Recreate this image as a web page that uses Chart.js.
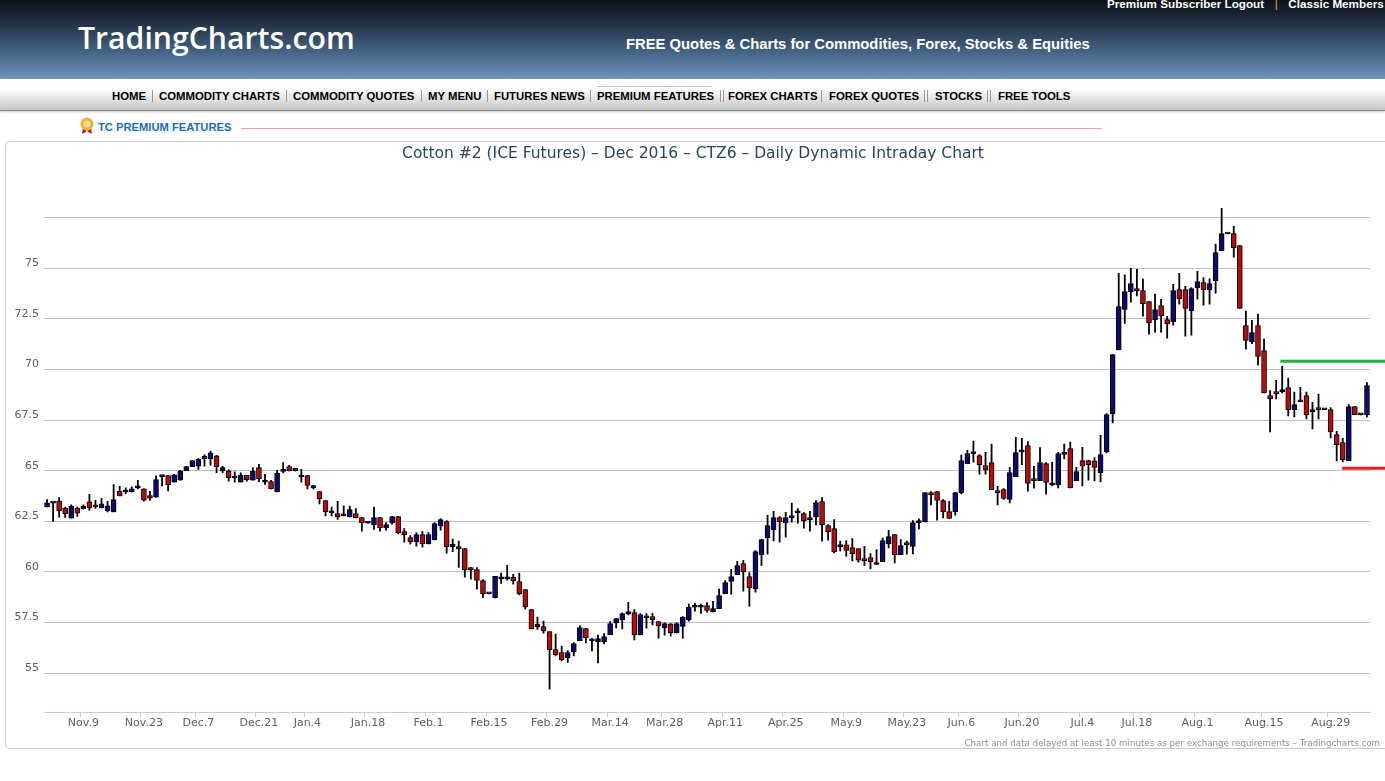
<!DOCTYPE html>
<html>
<head>
<meta charset="utf-8">
<title>Cotton #2 - CTZ6</title>
<script src="https://cdn.jsdelivr.net/npm/chart.js@4"></script>
<style>
html,body{margin:0;padding:0;background:#fff;overflow:hidden;width:1385px;height:781px;font-family:"Liberation Sans",Arial,sans-serif;}
.abs{position:absolute;white-space:nowrap;}
#head{position:absolute;left:0;top:0;width:1385px;height:79px;background:linear-gradient(#0c1116 0%,#1f2c3b 25%,#3f5b7b 60%,#6e94bd 100%);}
#nav{position:absolute;left:0;top:79px;width:1385px;height:31px;background:linear-gradient(#fff 0%,#fff 30%,#c6c6c6 100%);border-bottom:1px solid #888;box-shadow:0 1px 2px #ccc;}
#logo{left:78px;top:17px;color:#fff;font:600 30.2px "Open Sans",sans-serif;}
#slogan{left:626px;top:36px;color:#fff;font:bold 14.8px "Liberation Sans";}
#toplinks{left:1107px;top:-3px;color:#fff;font:bold 11.7px "Liberation Sans";}
#toplinks span{color:#e8a040;margin:0 10.5px;font-weight:normal;}
.nv{top:90px;font:bold 11.35px "Liberation Sans";color:#000;}
.sep{top:90px;width:1px;height:12px;background:#a89098;}
#navline{position:absolute;left:597px;top:86px;width:115px;height:1px;background:#c4c4c4;}
#premium{left:98px;top:121px;font:bold 11.2px "Liberation Sans";color:#0f70c8;}
#rule{position:absolute;left:241px;top:128px;width:861px;height:1px;background:#ff9aa0;}
#panel{position:absolute;left:5px;top:141px;width:1400px;height:608px;box-sizing:border-box;border:1px solid #ccc;border-radius:5px;}
#chart{position:absolute;left:5px;top:141px;}
#credit{right:5px;top:738px;font:8.7px "DejaVu Sans";color:#909090;}
</style>
</head>
<body>
<div id="head"></div>
<div id="nav"></div>
<div id="navline"></div>
<div class="abs" id="logo">TradingCharts.com</div>
<div class="abs" id="slogan">FREE Quotes &amp; Charts for Commodities, Forex, Stocks &amp; Equities</div>
<div class="abs" id="toplinks">Premium Subscriber Logout<span>|</span>Classic Members</div>
<div id="navitems"></div>
<svg class="abs" style="left:79px;top:117px" width="16" height="18" viewBox="0 0 16 18">
  <path d="M4 10 L3 17 L7 15 L8 11 Z M12 10 L13 17 L9 15 L8 11 Z" fill="#b8252c"/>
  <circle cx="8" cy="7" r="6.5" fill="#eeb23c"/><circle cx="8" cy="7" r="3.6" fill="#f8dc8a"/>
</svg>
<div class="abs" id="premium">TC PREMIUM FEATURES</div>
<div id="rule"></div>
<div id="panel"></div>
<canvas id="chart" width="1380" height="608"></canvas>
<div class="abs" id="credit">Chart and data delayed at least 10 minutes as per exchange requirements – Tradingcharts.com</div>

<script>
const chartTitle = 'Cotton #2 (ICE Futures) – Dec 2016 – CTZ6 – Daily Dynamic Intraday Chart';

const navLabels = ['HOME','COMMODITY CHARTS','COMMODITY QUOTES','MY MENU','FUTURES NEWS','PREMIUM FEATURES','FOREX CHARTS','FOREX QUOTES','STOCKS','FREE TOOLS'];
const navLeft = [112,159,293,428,494,597,728,829,935,998];
const navSeps = [152,286,421,487,590,720,723,821,924,927,987,990];

const tickIndex = [6,16,25,35,43,53,63,73,83,93,102,112,122,132,142,151,161,171,180,190,201,212];
const tickText = ['Nov.9','Nov.23','Dec.7','Dec.21','Jan.4','Jan.18','Feb.1','Feb.15','Feb.29','Mar.14','Mar.28','Apr.11','Apr.25','May.9','May.23','Jun.6','Jun.20','Jul.4','Jul.18','Aug.1','Aug.15','Aug.29'];

const highs = [
63.57,63.42,63.67,63.21,63.32,63.21,63.32,63.83,63.54,63.64,
63.49,64.31,64.23,64.15,64.20,64.52,64.11,63.98,64.75,64.77,
64.77,64.82,65.02,65.22,65.51,65.60,65.79,65.96,65.76,65.22,
65.05,64.94,64.90,64.77,65.15,65.31,64.82,64.52,65.02,65.40,
65.27,65.12,65.07,64.77,64.28,63.98,63.53,63.20,63.49,63.27,
63.25,63.13,62.70,62.45,63.20,62.70,62.44,62.75,62.75,62.14,
61.80,61.95,61.99,61.95,62.44,62.64,62.54,61.62,61.52,61.17,
60.23,60.22,59.63,58.94,59.78,59.94,60.33,59.89,59.94,59.13,
58.16,57.77,57.57,57.06,56.93,56.34,56.12,56.51,57.35,57.22,
56.71,56.88,56.96,57.55,57.70,57.98,58.50,58.14,57.95,57.95,
57.96,57.55,57.49,57.45,57.50,57.80,58.41,58.46,58.41,58.49,
58.55,59.15,59.58,60.13,60.53,60.58,59.97,61.06,61.63,62.80,
63.00,62.74,62.95,63.40,63.13,62.93,63.00,63.53,63.67,62.34,
62.59,61.53,61.55,61.65,61.16,61.27,60.91,61.11,61.68,62.06,
61.85,61.60,61.52,62.54,62.62,63.92,63.97,63.97,63.58,63.49,
63.92,65.77,66.01,66.46,65.80,65.91,66.31,64.23,64.12,65.17,
66.65,66.60,66.44,65.22,66.14,65.40,65.42,65.91,66.31,66.41,
65.17,66.16,65.52,65.65,66.75,67.82,70.73,74.75,74.67,75.00,
74.95,74.46,73.35,73.72,73.47,72.63,74.21,74.75,74.11,74.04,
74.85,74.54,74.47,76.19,77.96,76.71,77.07,76.12,72.88,72.43,
72.73,71.50,68.96,69.47,70.16,69.57,68.88,69.12,68.88,68.38,
68.78,68.03,68.12,66.95,66.60,68.27,68.17,67.78,69.35];

const lows = [
63.21,62.50,62.71,62.70,62.66,62.75,63.11,63.04,63.14,63.16,
62.96,62.96,63.75,63.87,63.95,64.10,63.50,63.54,63.70,64.25,
64.00,64.44,64.54,65.00,65.20,65.07,65.23,65.27,64.90,64.90,
64.49,64.44,64.44,64.49,64.54,64.46,64.33,64.10,63.95,64.89,
64.99,64.99,64.44,64.10,64.09,63.36,62.77,62.77,62.60,62.77,
62.72,62.67,62.01,62.41,62.10,62.01,62.06,62.36,61.88,61.47,
61.37,61.27,61.22,61.39,61.58,62.06,60.93,61.00,60.23,59.74,
59.64,59.15,58.75,58.92,58.72,59.44,59.59,59.40,58.87,58.16,
57.19,57.17,56.98,54.21,55.86,55.61,55.54,55.86,56.61,56.50,
56.10,55.51,56.45,56.91,57.24,57.19,57.88,56.65,56.89,57.22,
57.39,56.73,56.88,56.83,56.99,56.73,57.57,58.06,57.96,58.01,
58.03,58.19,58.93,58.90,59.87,59.05,58.31,59.00,60.33,60.88,
61.53,61.47,61.72,62.46,62.41,62.16,62.01,62.33,61.52,61.57,
60.94,61.04,60.78,60.55,60.48,60.33,60.15,60.37,60.51,61.19,
60.45,60.86,60.88,60.89,62.13,62.47,63.31,62.56,62.67,62.64,
62.80,63.86,65.35,65.42,64.83,64.83,64.07,63.31,63.58,63.41,
64.71,65.30,63.99,64.14,64.51,63.84,64.25,64.15,65.58,64.15,
64.51,64.25,64.53,64.50,64.45,65.88,67.36,70.97,72.28,73.32,
73.63,72.63,71.74,71.84,71.84,71.54,72.19,73.22,71.64,71.69,
73.47,73.17,73.22,73.77,75.87,76.69,75.54,73.01,71.00,71.28,
70.21,68.84,66.92,68.55,68.84,67.71,67.66,68.40,67.56,67.07,
67.56,68.01,66.62,65.49,65.44,65.50,67.77,67.76,67.66];

const opens = [
63.21,63.40,63.50,63.16,62.66,63.16,63.11,63.47,63.32,63.16,
63.01,62.96,63.98,63.95,63.95,64.15,64.11,63.77,63.70,64.71,
64.76,64.44,64.54,65.00,65.20,65.23,65.58,65.59,65.74,64.99,
65.00,64.64,64.44,64.77,64.54,65.15,64.43,64.46,63.95,64.97,
65.20,64.99,64.69,64.76,64.15,63.97,63.53,62.92,62.88,62.77,
62.72,62.89,62.69,62.41,62.33,62.69,62.18,62.44,62.74,61.99,
61.70,61.49,61.85,61.39,61.58,62.28,62.49,61.24,61.26,61.16,
60.22,60.12,59.58,58.92,58.72,59.66,59.66,59.74,59.53,59.13,
58.14,57.29,57.30,57.06,56.17,56.02,55.77,56.06,56.61,57.21,
56.60,56.56,56.56,56.91,57.49,57.65,57.93,57.99,56.89,57.73,
57.80,57.55,57.24,57.44,56.99,57.31,57.63,58.26,58.26,58.34,
58.03,58.19,58.93,59.53,59.87,60.42,59.77,59.16,60.86,61.68,
62.08,62.69,62.42,62.67,62.92,62.88,62.57,62.72,63.48,62.29,
62.14,61.24,61.34,61.21,61.16,60.66,60.71,60.37,60.51,61.39,
61.85,60.86,61.45,61.26,62.44,62.47,63.92,63.97,63.53,62.98,
62.97,63.91,65.35,65.83,65.75,65.26,65.40,64.02,64.07,63.58,
64.71,65.93,66.24,64.61,64.51,65.35,64.30,64.30,65.81,66.09,
64.51,65.50,65.50,65.49,64.91,65.93,67.81,70.97,72.96,73.83,
74.00,73.90,73.35,72.45,73.16,72.47,72.35,73.95,73.95,72.89,
74.03,74.29,73.93,74.39,75.87,76.69,76.71,76.12,72.17,71.36,
72.17,70.93,68.71,68.91,68.89,69.11,68.02,68.40,68.71,67.91,
68.12,68.01,68.02,66.79,66.39,65.50,68.17,67.76,67.77];

const closes = [
63.42,63.42,63.01,62.88,63.24,62.91,63.24,63.17,63.21,63.37,
63.27,63.57,63.75,64.03,64.11,64.26,63.55,63.65,64.56,64.77,
64.31,64.80,65.00,65.20,65.50,65.56,65.71,65.89,65.20,65.15,
64.66,64.72,64.77,64.56,64.97,64.59,64.51,64.10,64.87,65.07,
64.99,65.12,64.77,64.27,64.27,63.61,62.98,62.95,62.72,62.85,
63.08,62.67,62.44,62.45,62.69,62.18,62.34,62.74,61.93,61.83,
61.49,61.85,61.39,61.85,62.39,62.59,61.24,61.37,61.14,60.10,
60.10,59.58,58.92,58.94,59.78,59.74,59.74,59.56,58.92,58.29,
57.19,57.42,57.09,56.17,55.92,55.67,56.02,56.47,57.25,56.76,
56.68,56.71,56.81,57.45,57.70,57.95,58.05,56.89,57.90,57.81,
57.65,57.34,57.45,56.99,57.45,57.77,58.26,58.31,58.34,58.10,
58.19,58.84,59.48,59.77,60.32,60.00,59.21,61.01,61.60,62.29,
62.69,62.47,62.69,62.79,62.98,62.52,62.69,63.43,62.34,61.98,
60.99,61.35,61.06,60.91,60.58,60.56,60.51,60.46,61.55,61.75,
60.86,61.30,61.34,62.44,62.54,63.92,63.81,63.53,62.97,62.64,
63.92,65.50,65.85,65.95,65.30,65.04,64.07,63.92,63.63,64.91,
65.90,66.00,64.37,64.51,65.40,64.42,64.37,65.85,65.86,64.15,
64.96,65.22,65.30,65.16,65.80,67.77,70.73,73.11,73.85,74.24,
73.88,73.24,72.30,72.96,72.65,72.25,73.90,73.49,73.01,74.00,
74.34,73.93,74.24,75.77,76.71,76.71,76.02,73.01,71.43,71.82,
70.64,68.84,68.55,68.79,69.01,68.02,68.27,68.47,67.77,68.02,
68.02,68.03,66.92,66.29,65.54,68.17,67.77,67.78,69.21];

// support / resistance marks on the right
const resistanceLevel = 70.41;
const supportLevel = 65.12;
const resistanceStart = 203.7;
const supportStart = 213.9;

// nav row
const navBox = document.getElementById('navitems');
navLabels.forEach((txt, i) => {
    const d = document.createElement('div');
    d.className = 'abs nv';
    d.style.left = navLeft[i] + 'px';
    d.textContent = txt;
    navBox.appendChild(d);
});
navSeps.forEach(x => {
    const d = document.createElement('div');
    d.className = 'abs sep';
    d.style.left = x + 'px';
    navBox.appendChild(d);
});

const categories = highs.map(() => '');
tickIndex.forEach((idx, i) => { categories[idx] = tickText[i]; });

const wicks = highs.map((h, i) => [lows[i], h]);
const bodies = opens.map((o, i) => [o, closes[i]]);
const bodyColors = opens.map((o, i) => closes[i] >= o ? '#0b0b6e' : '#b80c0c');

const levelMarks = {
    id: 'levelMarks',
    afterDatasetsDraw(chart) {
        const ctx = chart.ctx;
        const x = chart.scales.x;
        const y = chart.scales.y;
        ctx.save();
        ctx.lineWidth = 3;
        ctx.strokeStyle = '#22b14c';
        ctx.beginPath();
        ctx.moveTo(x.getPixelForValue(resistanceStart), y.getPixelForValue(resistanceLevel));
        ctx.lineTo(chart.width, y.getPixelForValue(resistanceLevel));
        ctx.stroke();
        ctx.strokeStyle = '#ed1c24';
        ctx.beginPath();
        ctx.moveTo(x.getPixelForValue(supportStart), y.getPixelForValue(supportLevel));
        ctx.lineTo(chart.width, y.getPixelForValue(supportLevel));
        ctx.stroke();
        ctx.restore();
    }
};

const ctx = document.getElementById('chart').getContext('2d');
new Chart(ctx, {
    type: 'bar',
    data: {
        labels: categories,
        datasets: [{
            label: 'High-Low',
            data: wicks,
            grouped: false,
            order: 2,
            backgroundColor: '#000',
            borderWidth: 0,
            barThickness: 1.15
        }, {
            label: 'Open-Close',
            data: bodies,
            grouped: false,
            order: 1,
            backgroundColor: bodyColors,
            borderColor: '#000',
            borderWidth: 1,
            borderSkipped: false,
            barThickness: 5,
            minBarLength: 2
        }]
    },
    plugins: [levelMarks],
    options: {
        responsive: false,
        animation: false,
        layout: { padding: { left: 0, right: 4, top: 0, bottom: 0 } },
        plugins: {
            legend: { display: false },
            title: {
                display: true,
                text: chartTitle,
                color: '#2b4560',
                font: { family: 'DejaVu Sans', size: 15.5, weight: 'normal' },
                padding: { top: 4, bottom: 6 }
            }
        },
        scales: {
            x: {
                grid: {
                    drawOnChartArea: false,
                    tickLength: 5,
                    tickColor: c => tickIndex.includes(c.index) ? '#C0D0E0' : 'transparent'
                },
                border: { color: '#C0D0E0' },
                ticks: {
                    autoSkip: false,
                    maxRotation: 0,
                    minRotation: 0,
                    padding: 0,
                    color: '#606060',
                    font: { family: 'DejaVu Sans', size: 11 }
                },
                afterFit(scale) { scale.height = 37; }
            },
            y: {
                min: 53.086,
                max: 79.87,
                grid: { color: '#c0c0c0', drawTicks: false },
                border: { display: false },
                ticks: {
                    stepSize: 2.5,
                    includeBounds: false,
                    padding: 5,
                    labelOffset: -5,
                    color: '#606060',
                    font: { family: 'DejaVu Sans', size: 11 },
                    callback: v => v > 75 ? '' : v
                },
                afterFit(scale) { scale.width = 39; }
            },
            // empty right margin so the plot stops short of the panel edge
            rightGap: {
                position: 'right',
                grid: { drawOnChartArea: false, drawTicks: false },
                border: { display: false },
                ticks: { display: false },
                afterFit(scale) { scale.width = 11; }
            }
        }
    }
});
</script>
</body>
</html>
